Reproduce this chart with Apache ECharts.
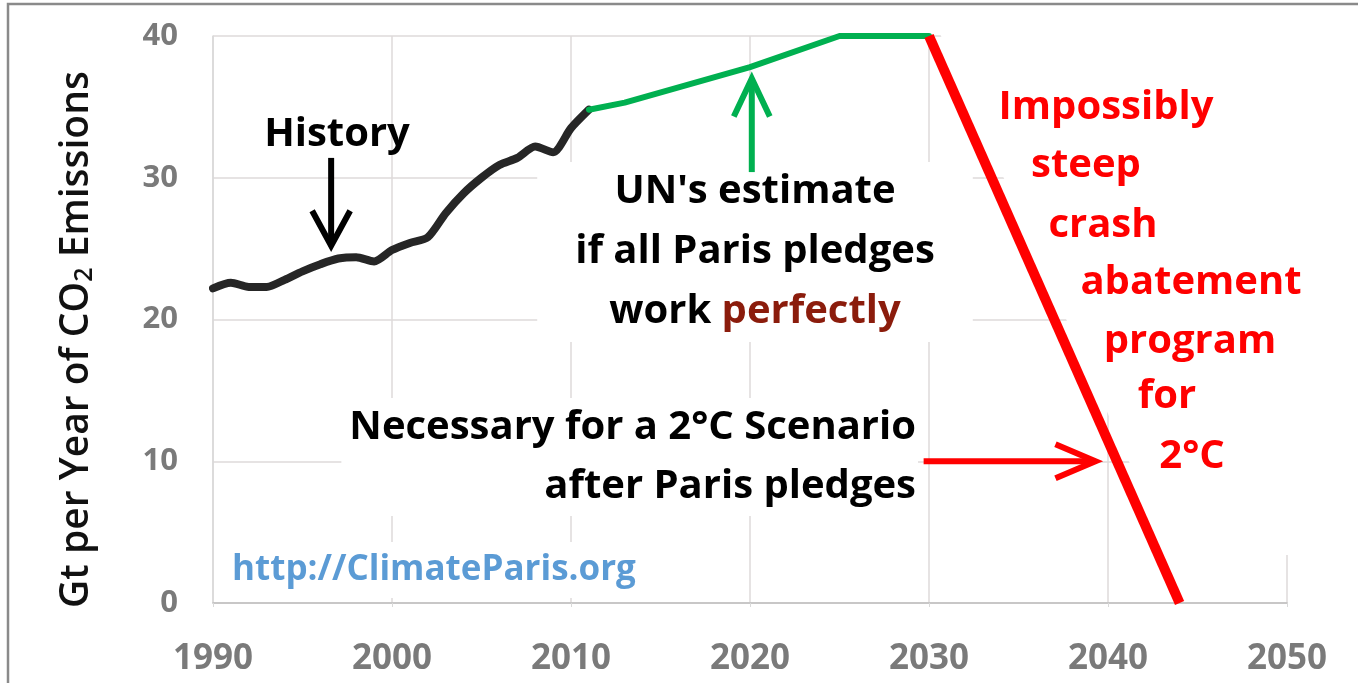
<!DOCTYPE html>
<html>
<head>
<meta charset="utf-8">
<title>CO2 emissions and Paris pledges</title>
<script src="https://cdn.jsdelivr.net/npm/echarts@6.0.0/dist/echarts.min.js"></script>
<style>
  html, body { margin: 0; padding: 0; background: #fff; }
  #main { width: 1358px; height: 683px; }
</style>
</head>
<body>
<div id="main"></div>
<script>
// history, Gt CO2 per year
const historyYears = [1990, 1991, 1992, 1993, 1994, 1995, 1996, 1997, 1998, 1999, 2000,
  2001, 2002, 2003, 2004, 2005, 2006, 2007, 2008, 2009, 2010, 2011];
const historyValues = [22.2, 22.6, 22.3, 22.3, 22.8, 23.4, 23.9, 24.3, 24.4, 24.1, 24.9,
  25.4, 25.8, 27.5, 28.9, 30.0, 30.9, 31.4, 32.2, 31.8, 33.5, 34.8];

// UN estimate if the Paris pledges work
const pledgeYears = [2011, 2013, 2020, 2025, 2030];
const pledgeValues = [34.8, 35.3, 37.8, 40, 40];

// crash needed for 2°C
const crashYears = [2030, 2044];
const crashValues = [40, 0];

const xMin = 1990, xMax = 2050, xStep = 10;
const yMin = 0, yMax = 40, yStep = 10;

const FONT = '"Open Sans", "Noto Sans", sans-serif';
const RED = '#ff0000';
const GREEN = '#00b050';
const INK = '#262626';

const pairs = (xs, ys) => xs.map((x, i) => [x, ys[i]]);

const chart = echarts.init(document.getElementById('main'), null, { renderer: 'canvas' });

const option = {
  backgroundColor: '#fff',
  animation: false,
  grid: { left: 213, right: 71, top: 36, bottom: 80 },
  xAxis: {
    type: 'value',
    min: xMin, max: xMax, interval: xStep,
    axisLine: { show: true, lineStyle: { color: '#bfbfbf', width: 1.5 } },
    axisTick: { show: true, length: 4, lineStyle: { color: '#d9d9d9' } },
    splitLine: { show: true, lineStyle: { color: '#dedada', width: 1.5 } },
    axisLabel: {
      fontFamily: FONT, fontSize: 35, fontWeight: 'bold', color: '#7a7a7a',
      margin: 39, formatter: v => String(v)
    }
  },
  yAxis: {
    type: 'value',
    min: yMin, max: yMax, interval: yStep,
    name: 'Gt per Year of CO{sub|2} Emissions',
    nameLocation: 'middle',
    nameRotate: 90,
    nameGap: 116,
    nameTextStyle: {
      fontFamily: FONT, fontSize: 39, fontWeight: 600, color: '#111',
      padding: [0, 40, 0, 0],
      rich: {
        sub: { fontFamily: FONT, fontSize: 25, fontWeight: 600, color: '#111', padding: [16, 0, 0, 0] }
      }
    },
    axisLine: { show: true, lineStyle: { color: '#d9d9d9', width: 1.5 } },
    axisTick: { show: false },
    splitLine: { show: true, lineStyle: { color: '#dedada', width: 1.5 } },
    axisLabel: {
      fontFamily: FONT, fontSize: 31, fontWeight: 'bold', color: '#7a7a7a', margin: 35
    }
  },
  series: [
    {
      name: 'History',
      type: 'line',
      data: pairs(historyYears, historyValues),
      smooth: 0.25,
      showSymbol: false,
      clip: false,
      z: 3,
      lineStyle: { color: INK, width: 8, cap: 'round', join: 'round' }
    },
    {
      name: 'UN estimate',
      type: 'line',
      data: pairs(pledgeYears, pledgeValues),
      showSymbol: false,
      clip: false,
      z: 3,
      lineStyle: { color: GREEN, width: 6, cap: 'round', join: 'round' }
    },
    {
      name: '2C crash',
      type: 'line',
      data: pairs(crashYears, crashValues),
      showSymbol: false,
      clip: false,
      z: 4,
      lineStyle: { color: RED, width: 10, cap: 'butt', join: 'round' }
    }
  ]
};
chart.setOption(option);

// arrows, in data units
const arrows = [
  { from: [1996.6, 31.4], to: [1996.6, 25.2], color: '#000', len: 35, half: 19 },
  { from: [2020.1, 30.4], to: [2020.1, 37.0], color: GREEN, len: 38, half: 18 },
  { from: [2029.7, 10], to: [2039.3, 10], color: RED, len: 40, half: 17 }
];

const toPx = p => chart.convertToPixel({ gridIndex: 0 }, p);

function arrowShapes(a) {
  const p0 = toPx(a.from);
  const p1 = toPx(a.to);
  const dx = p1[0] - p0[0], dy = p1[1] - p0[1];
  const d = Math.sqrt(dx * dx + dy * dy);
  const ux = dx / d, uy = dy / d;
  const nx = -uy, ny = ux;
  const bx = p1[0] - ux * a.len, by = p1[1] - uy * a.len;
  const style = { stroke: a.color, lineWidth: 6, fill: null, lineJoin: 'miter' };
  return [
    { type: 'polyline', z: 6, shape: { points: [p0, [p1[0] - ux * 2, p1[1] - uy * 2]] }, style: style },
    { type: 'polyline', z: 6, shape: { points: [[bx + nx * a.half, by + ny * a.half], p1, [bx - nx * a.half, by - ny * a.half]] }, style: style }
  ];
}

function label(x, y, text, opts) {
  const o = opts || {};
  return {
    type: 'text', x: x, y: y, z: 5,
    style: Object.assign({
      text: text,
      fontFamily: FONT, fontSize: 40, fontWeight: 'bold',
      fill: '#000', align: 'center', verticalAlign: 'middle', lineHeight: 60
    }, o)
  };
}

// white box behind the red text, its left edge runs along the crash line
const c0 = toPx([crashYears[0], crashValues[0]]);
const c1 = toPx([crashYears[1], crashValues[1]]);
const edgeAt = y => c0[0] + (c1[0] - c0[0]) * (y - c0[1]) / (c1[1] - c0[1]) + 12;

const redLines = ['Impossibly', 'steep', 'crash', 'abatement', 'program', 'for', '2°C'];

const graphics = [
  {
    type: 'rect', z: 10, silent: true,
    shape: { x: 8, y: 4, width: 1420, height: 740 },
    style: { fill: null, stroke: '#8a8a8a', lineWidth: 2.5 }
  },
  {
    type: 'polygon', z: 4, silent: true,
    shape: { points: [[edgeAt(30), 30], [edgeAt(555), 555], [1300, 555], [1300, 30]] },
    style: { fill: '#fff' }
  },
  label(337, 135, 'History'),
  label(755, 252, "UN's estimate\nif all Paris pledges\nwork {p|perfectly}", {
    backgroundColor: '#fff', padding: [0, 38, 0, 38],
    rich: { p: { fontFamily: FONT, fontSize: 40, fontWeight: 'bold', fill: '#8b1c0c', lineHeight: 60 } }
  }),
  label(918, 457, 'Necessary for a 2°C Scenario\nafter Paris pledges', {
    align: 'right', lineHeight: 59, backgroundColor: '#fff', padding: [0, 2, 0, 8]
  }),
  label(228, 570, 'http://ClimateParis.org', {
    align: 'left', fontSize: 35, fill: '#5b9bd5', lineHeight: 44,
    backgroundColor: '#fff', padding: [6, 8, 6, 4]
  })
];

// red annotation, centre of each line in pixels
const redPos = [[1106, 108], [1086, 166], [1103, 226], [1191, 283], [1190, 342], [1167, 397], [1192, 457]];
redLines.forEach((t, i) => {
  graphics.push(label(redPos[i][0], redPos[i][1], t, { fill: RED, lineHeight: 58 }));
});

arrows.forEach(a => { arrowShapes(a).forEach(s => graphics.push(s)); });

chart.setOption({ graphic: graphics });
</script>
</body>
</html>
